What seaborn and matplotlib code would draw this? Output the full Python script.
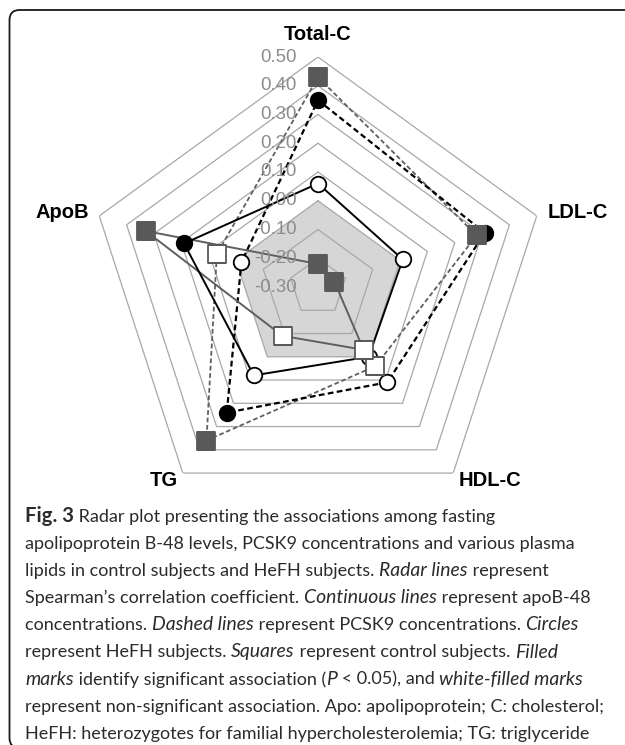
import numpy as np
import matplotlib
matplotlib.use("Agg")
import matplotlib.pyplot as plt
import seaborn as sns
from matplotlib.transforms import offset_copy
from matplotlib.patches import FancyBboxPatch

# axes of the radar, clockwise from the top
axis_labels = ["Total-C", "LDL-C", "HDL-C", "TG", "ApoB"]
ring_levels = [-0.20, -0.10, 0.00, 0.10, 0.20, 0.30, 0.40, 0.50]
ring_labels = ["0.50", "0.40", "0.30", "0.20", "0.10", "0.00", "-0.10", "-0.20", "-0.30"]
ring_label_values = [0.50, 0.40, 0.30, 0.20, 0.10, 0.00, -0.10, -0.20, -0.30]

# Spearman correlation coefficients (Total-C, LDL-C, HDL-C, TG, ApoB)
hefh_apob48 = [0.06, 0.01, 0.00, 0.08, 0.19]
hefh_apob48_sig = [False, False, False, False, True]
ctrl_apob48 = [-0.22, -0.24, -0.03, -0.09, 0.33]
ctrl_apob48_sig = [True, True, False, False, True]
hefh_pcsk9 = [0.35, 0.31, 0.11, 0.24, -0.02]
hefh_pcsk9_sig = [True, True, False, True, False]
ctrl_pcsk9 = [0.43, 0.28, 0.04, 0.36, 0.07]
ctrl_pcsk9_sig = [True, True, False, True, False]

caption_lines = [
    [("Fig. 3", "bold"), (" Radar plot presenting the associations among fasting", "normal")],
    [("apolipoprotein B-48 levels, PCSK9 concentrations and various plasma", "normal")],
    [("lipids in control subjects and HeFH subjects. ", "normal"), ("Radar lines", "italic"),
     (" represent", "normal")],
    [("Spearman\u2019s correlation coefficient. ", "normal"), ("Continuous lines", "italic"),
     (" represent apoB-48", "normal")],
    [("concentrations. ", "normal"), ("Dashed lines", "italic"),
     (" represent PCSK9 concentrations. ", "normal"), ("Circles", "italic")],
    [("represent HeFH subjects. ", "normal"), ("Squares", "italic"),
     (" represent control subjects. ", "normal"), ("Filled", "italic")],
    [("marks", "italic"), (" identify significant association (", "normal"), ("P", "italic"),
     (" < 0.05), and ", "normal"), ("white-filled marks", "italic")],
    [("represent non-significant association. Apo: apolipoprotein; C: cholesterol;", "normal")],
    [("HeFH: heterozygotes for familial hypercholesterolemia; TG: triglyceride", "normal")],
]

W, H = 625, 745

sns.set_theme(style="white")
plt.rcParams["font.family"] = ["Liberation Sans", "DejaVu Sans"]

fig = plt.figure(figsize=(W / 100, H / 100), dpi=100)
fig.patch.set_facecolor("white")

# polar axes placed so the radar centre sits at (318, 287) px, outer ring radius 230 px
cx, cy, R = 318, 287, 230
ax = fig.add_axes([(cx - R) / W, (H - cy - R) / H, 2 * R / W, 2 * R / H], projection="polar")
ax.set_theta_offset(np.pi / 2)
ax.set_theta_direction(-1)
ax.set_facecolor("none")
ax.grid(False)
ax.spines["polar"].set_visible(False)

theta = np.deg2rad(np.arange(len(axis_labels)) * 72.0)
theta_c = np.append(theta, theta[0] + 2 * np.pi)


def closed(v):
    return np.append(v, v[0])


# shaded negative region and pentagon rings
ax.fill(theta_c, closed([0.0] * 5), color="#d6d6d6", zorder=1, lw=0)
for lev in ring_levels:
    ax.plot(theta_c, closed([lev] * 5), color="#a8a8a8", lw=0.9, zorder=2)

dash = (0, (2.6, 1.5))
line_specs = [
    (ctrl_pcsk9, dict(color="#5f5f5f", lw=1.3, linestyle=dash)),
    (hefh_pcsk9, dict(color="black", lw=1.6, linestyle=dash)),
    (ctrl_apob48, dict(color="#5f5f5f", lw=1.4, linestyle="-")),
    (hefh_apob48, dict(color="black", lw=1.4, linestyle="-")),
]
for vals, kw in line_specs:
    sns.lineplot(x=theta_c, y=closed(vals), sort=False, estimator=None, ax=ax, zorder=3, **kw)

# markers: circles = HeFH, squares = control; filled = significant
marker_specs = [
    (hefh_pcsk9, hefh_pcsk9_sig, "o", "black", "black", 125),
    (hefh_apob48, hefh_apob48_sig, "o", "black", "black", 125),
    (ctrl_pcsk9, ctrl_pcsk9_sig, "s", "#595959", "#595959", 155),
    (ctrl_apob48, ctrl_apob48_sig, "s", "#595959", "#595959", 155),
]
z = 4
for vals, sig, mk, fill, edge, size in marker_specs:
    vals = np.array(vals)
    sig = np.array(sig)
    for flag in (True, False):
        sel = sig == flag
        if not sel.any():
            continue
        sns.scatterplot(x=theta[sel], y=vals[sel], marker=mk, s=size,
                        color=fill if flag else "white", edgecolor=edge,
                        linewidth=1.3, ax=ax, zorder=z)
    z += 1

ax.set_ylim(-0.30, 0.50)
ax.set_xticks([])
ax.set_yticks([])
ax.set_xlabel("")
ax.set_ylabel("")

# ring value labels, left of the top axis
lab_tr = offset_copy(ax.transData, fig=fig, x=-21, y=0, units="dots")
for lab, v in zip(ring_labels, ring_label_values):
    ax.text(0, v, lab, transform=lab_tr, ha="right", va="center", fontsize=13.4,
            color="#8c8c8c", zorder=10)

# axis names
label_pos = [(0.578, "center"), (0.538, "left"), (0.53, "left"), (0.53, "right"), (0.538, "right")]
for t, name, (r, ha) in zip(theta, axis_labels, label_pos):
    ax.text(t, r, name, ha=ha, va="center", fontsize=14.5, fontweight="bold",
            color="black", clip_on=False, zorder=10)

# frame around the figure (rounded at the left, open to the right)
frame = FancyBboxPatch((0.095, -0.03), 6.5, 7.38,
                       boxstyle="round,pad=0,rounding_size=0.1",
                       transform=fig.dpi_scale_trans, fill=False, ec="#1a1a1a", lw=1.3)
fig.patches.append(frame)

# caption, drawn segment by segment to mix bold / italic
renderer = fig.canvas.get_renderer()
cap_family = ["Lato", "DejaVu Sans"]
style_scale = {"normal": 1.0, "italic": 1.07, "bold": 1.12}


def seg_kw(style, size):
    kw = dict(family=cap_family, size=size * style_scale[style], color="#2b2b2b")
    if style == "bold":
        kw["weight"] = "bold"
    if style == "italic":
        kw["style"] = "italic"
    return kw


def seg_width(txt, kw):
    probe = fig.text(0, 0, "|" + txt + "|", **kw)
    bar = fig.text(0, 0, "||", **kw)
    w = probe.get_window_extent(renderer).width - bar.get_window_extent(renderer).width
    probe.remove()
    bar.remove()
    return w


# size the caption so the "cholesterol;" line spans 583 px as in the source
base = 10.0
ref_w = sum(seg_width(t, seg_kw(s, base)) for t, s in caption_lines[7])
cap_size = base * 583 / ref_w

x0, y0, dy = 25, 522, 27.1
for i, segs in enumerate(caption_lines):
    x = x0
    y = y0 + i * dy
    for txt, style in segs:
        kw = seg_kw(style, cap_size)
        fig.text(x / W, 1 - y / H, txt, ha="left", va="baseline", **kw)
        x += seg_width(txt, kw)

fig.savefig("out.png", dpi=100)
